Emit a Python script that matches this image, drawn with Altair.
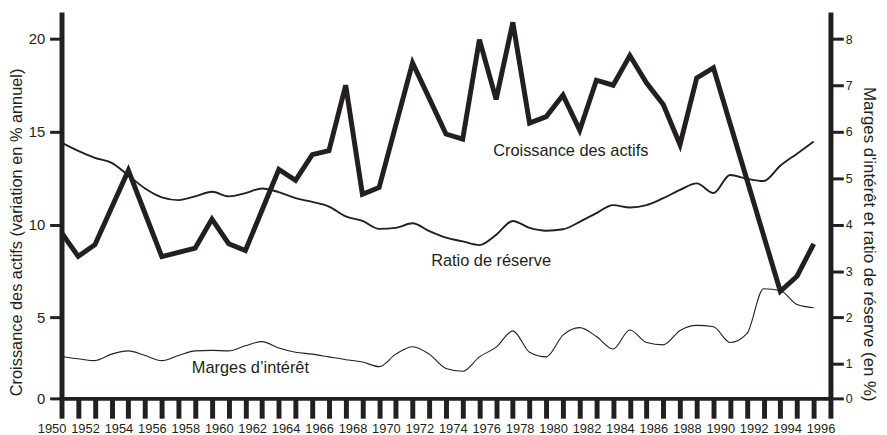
import altair as alt
import pandas as pd

INK = "#231f20"
FONT = "Liberation Sans"

years = list(range(1950, 1996))

# Croissance des actifs (variation en % annuel) - left axis
croissance = [9.56, 8.29, 8.92, 10.92, 12.92, 10.6, 8.28, 8.51, 8.74, 10.30,
              8.97, 8.60, 10.79, 12.97, 12.39, 13.77, 13.99, 17.51, 11.64, 12.0,
              15.36, 18.71, 16.8, 14.88, 14.61, 19.97, 16.75, 20.90, 15.47, 15.82,
              16.98, 15.09, 17.78, 17.51, 19.11, 17.63, 16.47, 14.31, 17.90, 18.45,
              15.44, 12.43, 9.42, 6.41, 7.22, 8.97]

# Ratio de réserve (en %) - right axis
ratio = [5.77, 5.59, 5.44, 5.33, 5.06, 4.78, 4.59, 4.53, 4.61, 4.71,
         4.61, 4.68, 4.78, 4.70, 4.57, 4.49, 4.39, 4.18, 4.08, 3.91,
         3.93, 4.03, 3.86, 3.72, 3.64, 3.56, 3.78, 4.08, 3.93, 3.87,
         3.90, 4.06, 4.25, 4.42, 4.37, 4.42, 4.57, 4.75, 4.89, 4.68,
         5.07, 4.99, 4.94, 5.27, 5.53, 5.79]

# Marges d'intérêt (en %) - right axis
marges = [1.16, 1.11, 1.07, 1.21, 1.28, 1.18, 1.07, 1.18, 1.28, 1.29,
          1.28, 1.39, 1.48, 1.34, 1.25, 1.21, 1.15, 1.09, 1.04, 0.94,
          1.21, 1.37, 1.21, 0.90, 0.84, 1.15, 1.36, 1.71, 1.25, 1.15,
          1.62, 1.78, 1.59, 1.32, 1.73, 1.46, 1.41, 1.72, 1.83, 1.80,
          1.46, 1.65, 2.62, 2.58, 2.28, 2.21]

# annotations (text, year, value on left scale)
label_text = ["Croissance des actifs", "Ratio de réserve", "Marges d\u2019intérêt"]
label_year = [1980.47, 1975.7, 1961.3]
label_value = [13.99, 8.02, 2.30]

x_ticks = list(range(1950, 1997))
left_ticks = [0.64, 5, 10, 15, 20]
right_ticks = [0.256, 1, 2, 3, 4, 5, 6, 7, 8]

df_g = pd.DataFrame({"year": years, "value": croissance})
df_r = pd.DataFrame({
    "year": years + years,
    "value": ratio + marges,
    "series": ["Ratio de réserve"] * len(years) + ["Marges d'intérêt"] * len(years),
})
df_l = pd.DataFrame({"text": label_text, "year": label_year, "value": label_value})

x_axis = alt.Axis(
    values=x_ticks, title=None, grid=False,
    labelExpr="datum.value % 2 == 0 ? '' + datum.value : ''",
    domainWidth=4, domainColor=INK, tickColor=INK, tickSize=20, tickWidth=5,
    labelFont=FONT, labelFontSize=13, labelColor=INK, labelPadding=4,
    labelOffset=-10, labelFlush=False, labelOverlap=False, labelBound=False,
)
x_enc = alt.X("year:Q", scale=alt.Scale(domain=[1950, 1996], nice=False, zero=False), axis=x_axis)

left_scale = alt.Scale(domain=[0.64, 21.46], nice=False, zero=False)
right_scale = alt.Scale(domain=[0.256, 8.585], nice=False, zero=False)

left_axis = alt.Axis(
    orient="left", values=left_ticks, grid=False,
    labelExpr="datum.value < 1 ? '0' : '' + datum.value",
    title="Croissance des actifs (variation en % annuel)",
    titleFont=FONT, titleFontSize=16.5, titleFontWeight="normal", titleColor=INK,
    titleX=-45, titleY=222, titleBaseline="middle", titleAlign="center",
    domainWidth=5, domainColor=INK, tickColor=INK, tickSize=12, tickWidth=3,
    labelFont=FONT, labelFontSize=15, labelColor=INK, labelPadding=5,
)
right_axis = alt.Axis(
    orient="right", values=right_ticks, grid=False,
    labelExpr="datum.value < 0.5 ? '0' : '' + datum.value",
    title="Marges d'intérêt et ratio de réserve (en %)",
    titleFont=FONT, titleFontSize=17, titleFontWeight="normal", titleColor=INK,
    titleAngle=90, titleX=38, titleY=234, titleBaseline="middle", titleAlign="center",
    domainWidth=5, domainColor=INK, tickColor=INK, tickSize=13, tickWidth=3,
    labelFont=FONT, labelFontSize=12.5, labelColor=INK, labelPadding=2,
)

growth = alt.Chart(df_g).mark_line(color=INK, strokeWidth=5, strokeJoin="miter").encode(
    x=x_enc,
    y=alt.Y("value:Q", scale=left_scale, axis=left_axis),
)
labels = alt.Chart(df_l).mark_text(font=FONT, fontSize=16.5, color=INK, align="center", baseline="middle").encode(
    x=x_enc,
    y=alt.Y("value:Q", scale=left_scale, axis=left_axis),
    text="text:N",
)
left_layer = alt.layer(growth, labels)

right_layer = alt.Chart(df_r).mark_line(color=INK, interpolate="monotone").encode(
    x=x_enc,
    y=alt.Y("value:Q", scale=right_scale, axis=right_axis),
    strokeWidth=alt.StrokeWidth("series:N", scale=alt.Scale(domain=["Ratio de réserve", "Marges d'intérêt"], range=[1.9, 1.1]), legend=None),
    detail="series:N",
)

chart = alt.layer(left_layer, right_layer).resolve_scale(y="independent").properties(
    width=776, height=390,
    autosize=alt.AutoSizeParams(type="none"),
    padding={"left": 54, "top": 2, "right": 49, "bottom": 35},
    background="white",
).configure_view(stroke=None)

chart.save("out.html", embed_options={"renderer": "svg", "actions": False})
